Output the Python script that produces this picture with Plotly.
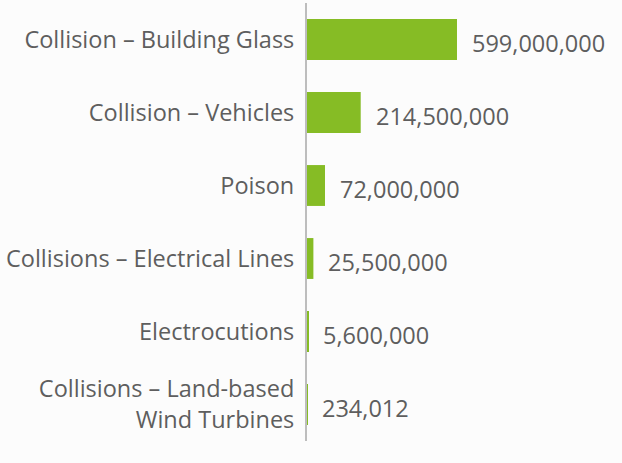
import plotly.graph_objects as go

categories = [
    "Collision – Building Glass",
    "Collision – Vehicles",
    "Poison",
    "Collisions – Electrical Lines",
    "Electrocutions",
    "Collisions – Land-based<br>Wind Turbines",
]
values = [599000000, 214500000, 72000000, 25500000, 5600000, 234012]
value_labels = [f"{v:,}" for v in values]

bar_color = "#86bc25"
text_color = "#5e5e5e"
bg = "#fcfcfc"

fig = go.Figure()
fig.add_trace(go.Bar(
    x=values, y=categories, orientation="h",
    marker=dict(color=bar_color, line=dict(width=0)),
    hoverinfo="skip",
))
for c, v, t in zip(categories, values, value_labels):
    fig.add_annotation(x=v, y=c, text=t, showarrow=False, xanchor="left",
                       xshift=13, yshift=-3,
                       font=dict(family="Open Sans", size=23.5, color=text_color))

fig.update_layout(
    width=622, height=463,
    margin=dict(l=307, r=0, t=3, b=22),
    paper_bgcolor=bg, plot_bgcolor=bg,
    bargap=0.44,
    showlegend=False,
    font=dict(family="Open Sans", size=23.5, color=text_color),
)
fig.update_xaxes(range=[0, 1258000000], visible=False, showgrid=False, zeroline=False)
fig.update_yaxes(autorange="reversed", showline=True, linecolor="#bdbdbd", linewidth=2,
                 showgrid=False, zeroline=False, ticks="", ticklabelstandoff=6,
                 tickfont=dict(family="Open Sans", size=23.5, color=text_color),
                 automargin=False)

fig.write_html("out.html")
